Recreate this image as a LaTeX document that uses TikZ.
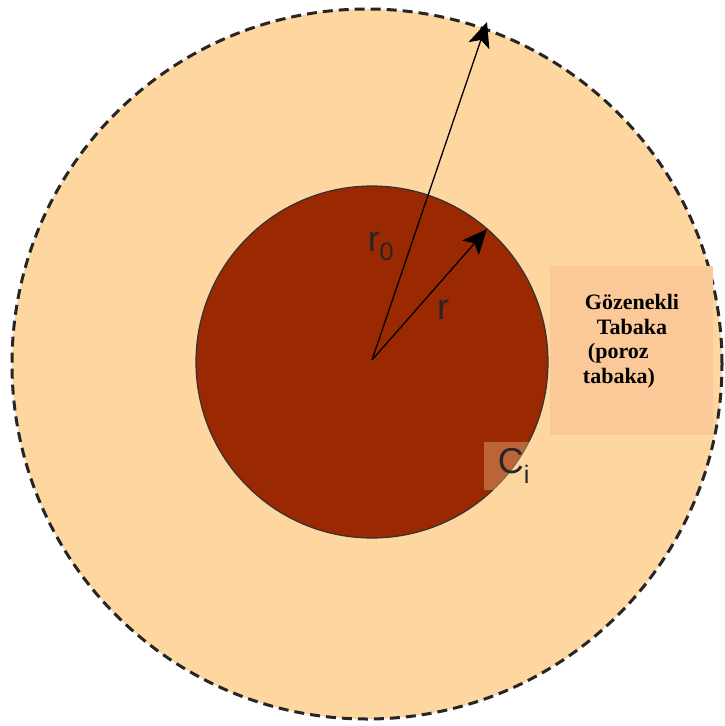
\documentclass[tikz,border=0pt]{standalone}
\usepackage{fontspec}
\setmainfont{Liberation Serif}
\newfontfamily\labelfont{Liberation Sans}
\usetikzlibrary{arrows.meta}
\definecolor{layer}{RGB}{254,214,160}
\definecolor{core}{RGB}{154,40,0}
\definecolor{tag}{RGB}{251,201,152}
\begin{document}
\begin{tikzpicture}[x=1pt, y=-1pt,
    >={Stealth[length=25pt, width=22pt, inset=6pt]},
    radline/.style={->, line width=1.3pt},
    lbl/.style={font=\labelfont\fontsize{36}{40}\selectfont, text=black!85, inner sep=0pt}]

  \useasboundingbox (0,0) rectangle (724,726);

  % porous layer and core
  \fill[layer] (367,364) circle[radius=355pt];
  \draw[line width=3pt, black!85, dash pattern=on 10pt off 6pt] (367,364) circle[radius=355pt];
  \fill[core] (372,362) circle[radius=176pt];
  \draw[line width=1.2pt, black!80] (372,362) circle[radius=176pt];

  % label box
  \node[fill=tag, minimum width=163pt, minimum height=169pt, inner sep=0pt] (box) at (631.5,350.5) {};
  \node[font=\bfseries\fontsize{22}{24.5}\selectfont, align=left, inner sep=0pt] (layername) at (631,341)
    {\hspace*{2pt}Gözenekli\\ \hspace*{14pt}Tabaka\\ \hspace*{5pt}(poroz\\ tabaka)};

  % radii
  \coordinate (o) at (372,360);
  \coordinate (outer) at (487,22);
  \coordinate (inner) at (487,229);
  \draw[radline] (o) -- (outer);
  \draw[radline] (o) -- (inner);
  \node[lbl] (r0) at (381,246) {r\textsubscript{0}};
  \node[lbl] (r) at (443,310) {r};

  % concentration label
  \fill[layer, opacity=0.35] (484,442) rectangle (534,490);
  \node[lbl] (ci) at (514,466) {C\textsubscript{i}};
\end{tikzpicture}
\end{document}
